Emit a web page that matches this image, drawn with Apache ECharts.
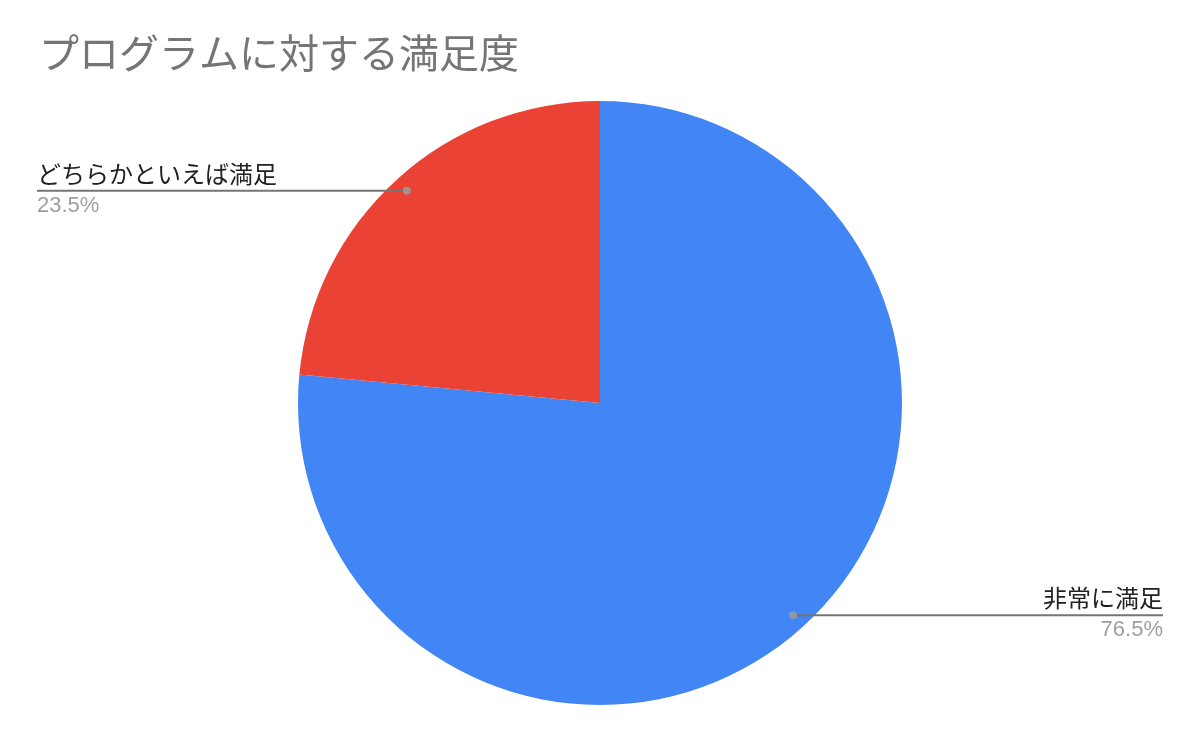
<!DOCTYPE html>
<html><head><meta charset="utf-8">
<script src="https://cdn.jsdelivr.net/npm/echarts@6/dist/echarts.min.js"></script>
<style>html,body{margin:0;padding:0;background:#fff}#c{width:1200px;height:742px}</style>
</head><body><div id="c"></div>
<script>
var titleText = 'プログラムに対する満足度';
var categories = ['非常に満足', 'どちらかといえば満足'];
var values = [76.5, 23.5];
var colors = ['#4285f4', '#ea4335'];

var data = categories.map(function (c, i) { return { name: c, value: values[i], itemStyle: { color: colors[i] } }; });
var total = values.reduce(function (a, b) { return a + b; }, 0);
var acc = 0;
var dots = values.map(function (v) { var mid = acc + v / 2; acc += v; return [0.95, mid / total * 100]; });

var chart = echarts.init(document.getElementById('c'));
chart.setOption({
  animation: false,
  title: { text: titleText, left: 34, top: 28, textStyle: { fontFamily: 'Noto Sans CJK JP', fontSize: 40, fontWeight: 'normal', color: '#757575' } },
  polar: { center: ['50%', 403], radius: 302 },
  angleAxis: { type: 'value', min: 0, max: 100, startAngle: 90, clockwise: true, show: false },
  radiusAxis: { type: 'value', min: 0, max: 1, show: false },
  series: [
    { type: 'pie', center: ['50%', 403], radius: [0, 302], startAngle: 90, clockwise: true, silent: true,
      label: { show: false }, labelLine: { show: false }, itemStyle: { borderWidth: 0 }, emphasis: { disabled: true }, data: data, z: 1 },
    { type: 'pie', center: ['50%', 403], radius: [0, 287], startAngle: 90, clockwise: true, silent: true,
      itemStyle: { color: 'rgba(0,0,0,0)', borderWidth: 0 }, emphasis: { disabled: true },
      data: categories.map(function (c, i) { return { name: c, value: values[i] }; }),
      label: { show: true, position: 'outside', alignTo: 'edge', edgeDistance: 37, fontSize: 20, overflow: 'none',
        formatter: function (p) { return '{nm|' + p.name + '}\n{pc|' + p.value.toFixed(1) + '%}'; },
        rich: {
          nm: { fontFamily: 'Noto Sans CJK JP', fontSize: 24, color: '#212121', lineHeight: 30 },
          pc: { fontFamily: 'Liberation Sans', fontSize: 22, color: '#9e9e9e', lineHeight: 34 }
        } },
      labelLine: { show: true, length: 0, length2: 10, smooth: false, lineStyle: { color: '#757575', width: 2 } },
      labelLayout: function (params) {
        var pts = params.labelLinePoints; var r = params.labelRect;
        if (!pts) return {};
        var p0 = pts[0];
        var farX = (r.x + r.width / 2) < p0[0] ? r.x : r.x + r.width;
        return { labelLinePoints: [p0, [farX, p0[1]]] };
      },
      z: 2 },
    { type: 'scatter', coordinateSystem: 'polar', data: dots, symbolSize: 8, silent: true,
      itemStyle: { color: '#9e9e9e' }, z: 5 }
  ]
});
</script></body></html>
